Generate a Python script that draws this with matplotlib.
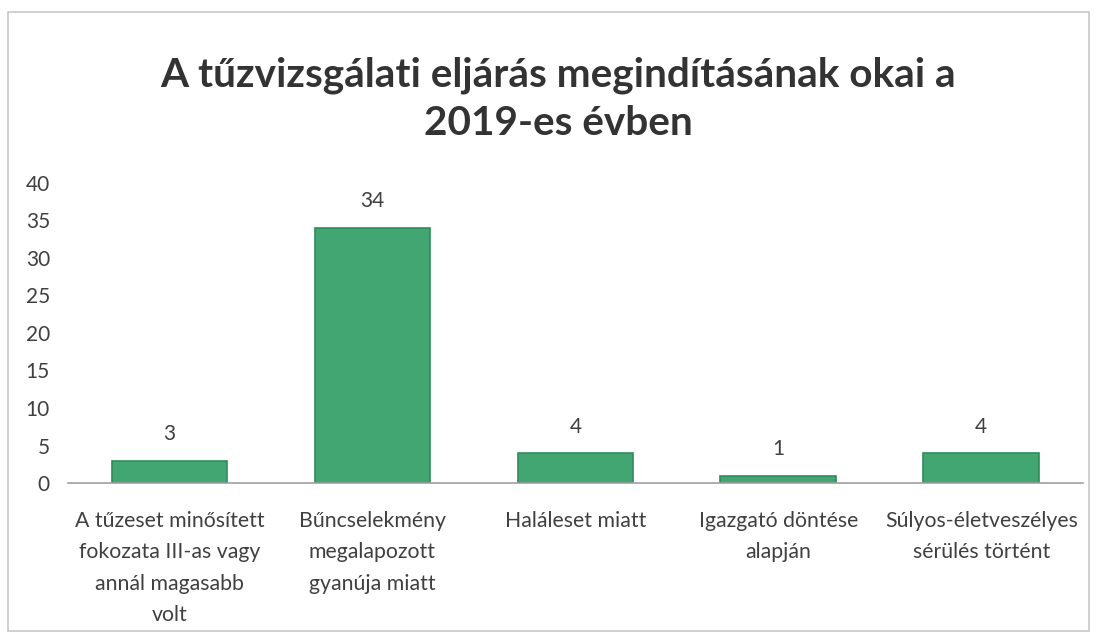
import matplotlib
matplotlib.use('Agg')
import matplotlib.pyplot as plt
from matplotlib.patches import Rectangle

categories = [
    "A tűzeset minősített\nfokozata III-as vagy\nannál magasabb\nvolt",
    "Bűncselekmény\nmegalapozott\ngyanúja miatt",
    "Haláleset miatt",
    "Igazgató döntése\nalapján",
    "Súlyos-életveszélyes\nsérülés történt",
]
values = [3, 34, 4, 1, 4]
yticks = [0, 5, 10, 15, 20, 25, 30, 35, 40]
title = "A tűzvizsgálati eljárás megindításának okai a\n2019-es évben"

plt.rcParams['font.family'] = ['Lato', 'DejaVu Sans']
text_color = '#404040'

fig = plt.figure(figsize=(10.97, 6.39), dpi=100)
ax = fig.add_axes([0.062, 0.244, 0.925, 0.47])

x = range(len(values))
bars = ax.bar(x, values, width=0.57, color='#42a673', edgecolor='#2f8c5c', linewidth=1.2)
for b, v in zip(bars, values):
    ax.text(b.get_x() + b.get_width() / 2, v + 2.2, str(v), ha='center', va='bottom',
            fontsize=15, color=text_color)

ax.set_xlim(-0.5, len(values) - 0.5)
ax.set_ylim(0, 40)
ax.set_yticks(yticks)
ax.set_xticks(list(x))
ax.set_xticklabels(categories, fontsize=15.3, color=text_color, linespacing=1.72)
ax.tick_params(axis='y', length=0, labelsize=15, labelcolor=text_color, pad=13)
ax.tick_params(axis='x', length=0, pad=20)
for s in ['top', 'right', 'left']:
    ax.spines[s].set_visible(False)
ax.spines['bottom'].set_color('#a0a0a0')
ax.spines['bottom'].set_linewidth(1.2)

fig.text(0.509, 0.845, title, ha='center', va='center', fontsize=29.2, fontweight='bold',
         color='#333333', linespacing=1.35)

fig.patches.append(Rectangle((0.007, 0.012), 0.986, 0.97, transform=fig.transFigure,
                             fill=False, edgecolor='#c8c8c8', linewidth=1.2))

fig.savefig('out.png', dpi=100)
